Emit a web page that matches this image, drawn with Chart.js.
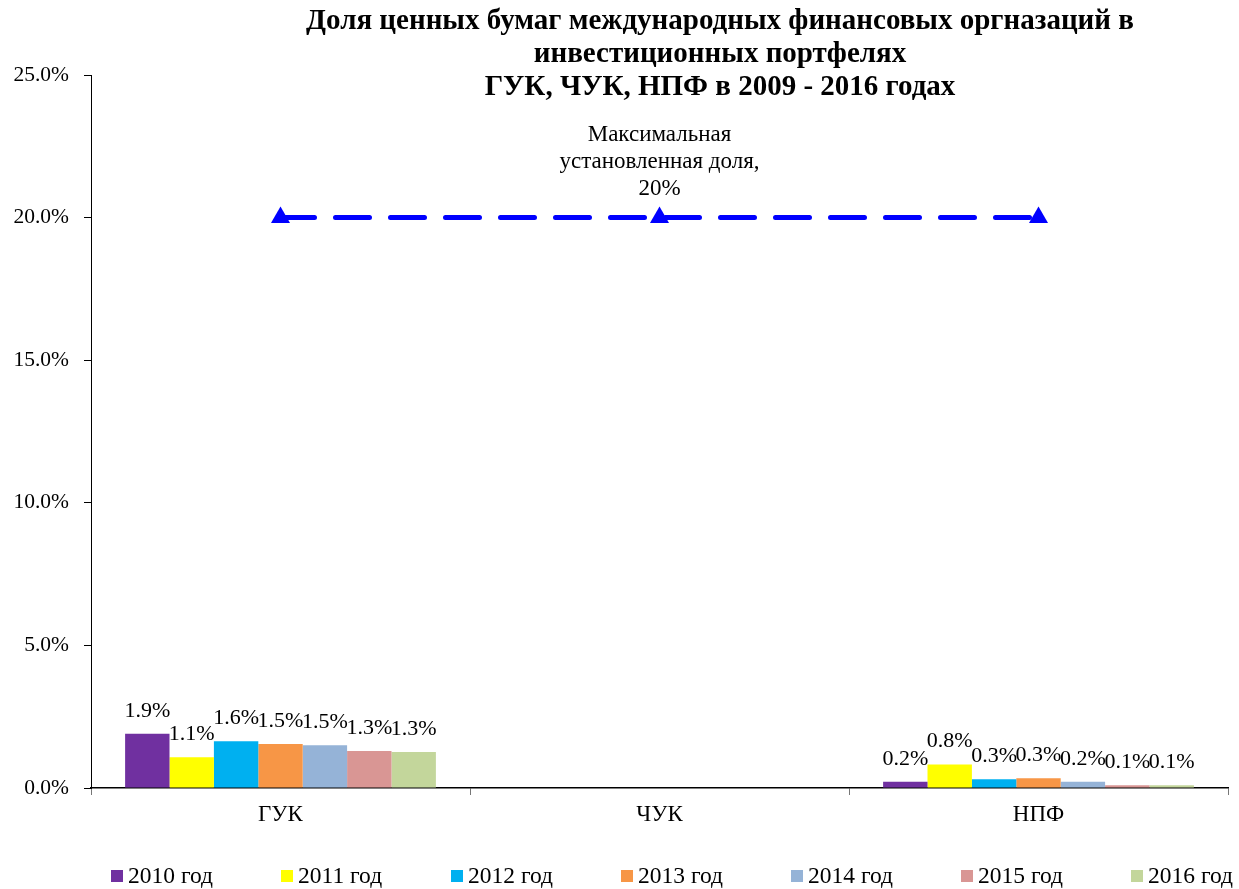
<!DOCTYPE html>
<html>
<head>
<meta charset="utf-8">
<script src="https://cdn.jsdelivr.net/npm/chart.js@4"></script>
<style>
  html, body { margin: 0; padding: 0; background: #fff; }
  #wrap { width: 1239px; height: 889px; }
</style>
</head>
<body>
<div id="wrap"><canvas id="chart"></canvas></div>
<script>
// категории и данные (доля, %)
const categories = ['ГУК', 'ЧУК', 'НПФ'];
const years = ['2010 год', '2011 год', '2012 год', '2013 год', '2014 год', '2015 год', '2016 год'];
const share2010 = [1.9, null, 0.22];
const share2011 = [1.08, null, 0.82];
const share2012 = [1.64, null, 0.31];
const share2013 = [1.54, null, 0.34];
const share2014 = [1.5, null, 0.22];
const share2015 = [1.3, null, 0.1];
const share2016 = [1.26, null, 0.1];
const maxShare = [20, 20, 20];
const maxShareLabel = ['Максимальная', 'установленная доля,', '20%'];
const titleLines = ['Доля ценных бумаг международных финансовых оргназаций в', 'инвестиционных портфелях', 'ГУК, ЧУК, НПФ в 2009 - 2016 годах'];

const colors = ['#7030A0', '#FFFF00', '#00B0F0', '#F79646', '#95B3D7', '#D99694', '#C3D69B'];
const series = [share2010, share2011, share2012, share2013, share2014, share2015, share2016];
const FONT = "'Liberation Serif', 'Times New Roman', serif";

// подписи над столбцами, подпись линии, заголовок и легенда
const labelsPlugin = {
    id: 'labelsPlugin',
    afterDatasetsDraw(chart) {
        const ctx = chart.ctx;
        ctx.save();
        ctx.fillStyle = '#000';
        ctx.font = '22px ' + FONT;
        ctx.textAlign = 'center';
        ctx.textBaseline = 'bottom';
        chart.data.datasets.forEach((ds, i) => {
            if (ds.type === 'line') return;
            chart.getDatasetMeta(i).data.forEach((bar, j) => {
                const v = ds.data[j];
                if (v === null) return;
                ctx.fillText(v.toFixed(1) + '%', bar.x, bar.y - 12);
            });
        });
        // подпись линии максимальной доли
        const lineMeta = chart.getDatasetMeta(chart.data.datasets.length - 1);
        const pt = lineMeta.data[1];
        ctx.textBaseline = 'middle';
        ctx.font = '23px ' + FONT;
        maxShareLabel.forEach((t, k) => {
            ctx.fillText(t, pt.x, pt.y - 83 + k * 27);
        });
        // заголовок
        ctx.font = 'bold 29px ' + FONT;
        titleLines.forEach((t, k) => {
            ctx.fillText(t, 720, 22 + k * 33);
        });
        // легенда
        ctx.font = '23.5px ' + FONT;
        ctx.textAlign = 'left';
        years.forEach((t, k) => {
            const x = 111 + k * 170;
            ctx.fillStyle = colors[k];
            ctx.fillRect(x, 870, 12, 12);
            ctx.fillStyle = '#000';
            ctx.fillText(t, x + 17, 877);
        });
        ctx.restore();
    }
};

const datasets = series.map((data, i) => ({
    type: 'bar',
    label: years[i],
    data: data,
    backgroundColor: colors[i],
    borderWidth: 0,
    categoryPercentage: 0.82,
    barPercentage: 1.0,
    order: 2
}));
datasets.push({
    type: 'line',
    label: 'Максимальная установленная доля',
    data: maxShare,
    borderColor: '#0000FF',
    backgroundColor: '#0000FF',
    borderWidth: 5,
    borderDash: [34, 21],
    borderCapStyle: 'round',
    pointStyle: 'triangle',
    pointRadius: 11,
    pointBackgroundColor: '#0000FF',
    pointBorderWidth: 0,
    fill: false,
    order: 1
});

new Chart(document.getElementById('chart').getContext('2d'), {
    data: { labels: categories, datasets: datasets },
    plugins: [labelsPlugin],
    options: {
        responsive: true,
        maintainAspectRatio: false,
        animation: false,
        layout: { padding: { top: 75, right: 6, left: 0, bottom: 61 } },
        plugins: {
            title: { display: false },
            tooltip: { enabled: false },
            legend: { display: false }
        },
        scales: {
            x: {
                offset: true,
                border: { color: '#000', width: 1.5 },
                grid: { drawOnChartArea: false, drawTicks: true, tickLength: 7, color: '#777', offset: true },
                ticks: { color: '#000', font: { family: FONT, size: 23 }, padding: 6 },
                afterFit: s => { s.height = 40; }
            },
            y: {
                min: 0,
                max: 25,
                border: { color: '#000', width: 1 },
                grid: { drawOnChartArea: false, drawTicks: true, tickLength: 7, color: '#000' },
                ticks: {
                    stepSize: 5,
                    color: '#000',
                    padding: 15,
                    font: { family: FONT, size: 21.5 },
                    callback: v => v.toFixed(1) + '%'
                },
                afterFit: s => { s.width = 91; }
            }
        }
    }
});
</script>
</body>
</html>
